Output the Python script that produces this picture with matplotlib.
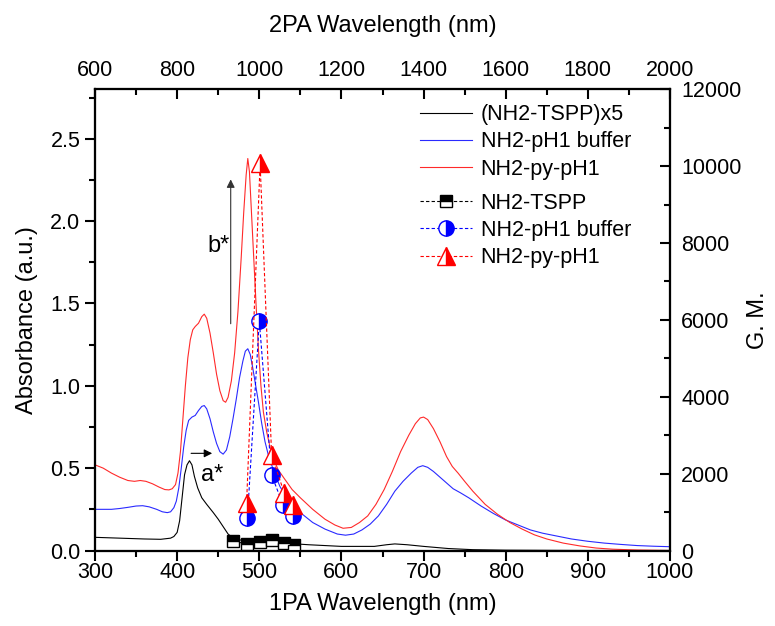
import matplotlib
matplotlib.use('Agg')
import matplotlib.pyplot as plt

plt.rcParams['font.family'] = ['Liberation Sans', 'DejaVu Sans']

# 1PA absorbance spectra (nm, a.u.)
wl_tspp = [300, 330, 360, 380, 392, 396, 400, 403, 406, 409, 412, 415, 418, 421, 425, 430, 436,
           444, 450, 456, 462, 468, 475, 490, 510, 530, 560, 600, 640, 655, 665, 680, 700, 730,
           760, 800, 900, 1000]
abs_tspp = [0.08, 0.075, 0.07, 0.068, 0.075, 0.085, 0.11, 0.18, 0.32, 0.46, 0.52, 0.545, 0.52,
            0.45, 0.38, 0.32, 0.28, 0.23, 0.19, 0.145, 0.1, 0.075, 0.065, 0.055, 0.05, 0.045,
            0.035, 0.025, 0.025, 0.035, 0.04, 0.035, 0.025, 0.012, 0.005, 0.002, 0.0, 0.0]

wl_ph1 = [300, 310, 320, 330, 340, 350, 358, 366, 375, 382, 388, 392, 396, 399, 402, 405, 408,
          411, 414, 418, 422, 426, 430, 433, 436, 440, 444, 448, 452, 456, 460, 464, 468, 472,
          476, 480, 483, 486, 489, 492, 495, 499, 503, 507, 511, 517, 525, 532, 540, 550, 565,
          580, 595, 605, 615, 625, 635, 645, 655, 665, 675, 685, 693, 699, 705, 712, 720, 728,
          736, 745, 755, 770, 785, 800, 815, 830, 845, 860, 880, 900, 920, 940, 960, 980, 1000]
abs_ph1 = [0.25, 0.25, 0.25, 0.255, 0.262, 0.27, 0.272, 0.265, 0.25, 0.235, 0.23, 0.235, 0.26,
           0.3, 0.38, 0.5, 0.63, 0.73, 0.79, 0.81, 0.82, 0.85, 0.875, 0.88, 0.86, 0.8, 0.72,
           0.65, 0.6, 0.585, 0.61, 0.69, 0.8, 0.92, 1.05, 1.15, 1.21, 1.225, 1.19, 1.11, 1.02,
           0.9, 0.77, 0.66, 0.58, 0.49, 0.39, 0.33, 0.28, 0.23, 0.17, 0.13, 0.1, 0.093, 0.1,
           0.125, 0.16, 0.21, 0.28, 0.36, 0.42, 0.47, 0.505, 0.515, 0.505, 0.48, 0.445, 0.41,
           0.375, 0.35, 0.32, 0.27, 0.225, 0.185, 0.155, 0.125, 0.105, 0.09, 0.07, 0.056,
           0.045, 0.037, 0.03, 0.026, 0.023]

wl_py = [300, 310, 320, 330, 340, 348, 355, 362, 370, 378, 385, 390, 394, 398, 401, 404, 407,
         410, 413, 416, 419, 422, 426, 430, 433, 436, 440, 444, 448, 452, 456, 459, 462, 466,
         470, 474, 478, 481, 484, 486, 488, 490, 493, 496, 499, 502, 505, 509, 513, 517, 523,
         530, 540, 550, 565, 580, 592, 602, 612, 622, 632, 642, 652, 662, 672, 682, 690, 696,
         700, 705, 712, 720, 728, 735, 742, 750, 760, 775, 790, 805, 820, 835, 850, 870, 890,
         910, 930, 960, 1000]
abs_py = [0.52, 0.5, 0.47, 0.445, 0.425, 0.42, 0.425, 0.42, 0.405, 0.385, 0.37, 0.368, 0.375,
          0.4, 0.47, 0.6, 0.8, 1.0, 1.17, 1.28, 1.34, 1.36, 1.38, 1.42, 1.435, 1.41, 1.32, 1.2,
          1.07, 0.97, 0.91, 0.9, 0.93, 1.03, 1.2, 1.45, 1.78, 2.05, 2.28, 2.38, 2.3, 2.1, 1.8,
          1.5, 1.22, 1.0, 0.84, 0.72, 0.63, 0.56, 0.49, 0.44, 0.37, 0.32, 0.25, 0.19, 0.155,
          0.135, 0.14, 0.17, 0.21, 0.28, 0.37, 0.48, 0.6, 0.7, 0.77, 0.805, 0.81, 0.795, 0.74,
          0.66, 0.57, 0.51, 0.47, 0.42, 0.36, 0.28, 0.22, 0.17, 0.13, 0.095, 0.07, 0.045, 0.028,
          0.015, 0.008, 0.003, 0.0]

# 2PA cross sections (2PA nm, GM)
tpa_wl_tspp = [937, 969, 1002, 1030, 1060, 1085]
gm_tspp = [255, 161, 213, 273, 187, 143]
tpa_wl_ph1 = [971, 1000, 1030, 1058, 1081]
gm_ph1 = [838, 5972, 1964, 1184, 898]
tpa_wl_py = [969, 1002, 1030, 1061, 1083]
gm_py = [1228, 10075, 2485, 1488, 1184]

fs = 15.5
fl = 17

fig = plt.figure(figsize=(7.75, 6.26), dpi=100)
ax = fig.add_axes([0.1226, 0.1206, 0.7419, 0.7367])

l1, = ax.plot(wl_tspp, abs_tspp, color='black', lw=0.8, label='(NH2-TSPP)x5')
l2, = ax.plot(wl_ph1, abs_ph1, color='#2a2aff', lw=0.8, label='NH2-pH1 buffer')
l3, = ax.plot(wl_py, abs_py, color='#ff2a2a', lw=0.8, label='NH2-py-pH1')

ax.set_xlim(300, 1000)
ax.set_ylim(0, 2.8)
ax.set_xticks(range(300, 1001, 100))
ax.set_xticks(range(350, 1000, 100), minor=True)
ax.set_yticks([0, 0.5, 1.0, 1.5, 2.0, 2.5])
ax.set_yticklabels(['0.0', '0.5', '1.0', '1.5', '2.0', '2.5'])
ax.set_yticks([0.25, 0.75, 1.25, 1.75, 2.25, 2.75], minor=True)
ax.tick_params(which='both', direction='out', labelsize=fs, width=1.5, top=False, right=False)
ax.tick_params(which='major', length=7)
ax.tick_params(which='minor', length=4)
ax.tick_params(axis='x', which='major', pad=1.5)
ax.set_xlabel('1PA Wavelength (nm)', fontsize=fl, labelpad=7)
ax.set_ylabel('Absorbance (a.u.)', fontsize=fl, labelpad=9)

# arrows
ax.annotate('', xy=(446, 0.59), xytext=(413.6, 0.59),
            arrowprops=dict(arrowstyle='-|>', color='black', lw=0.8, mutation_scale=12))
ax.text(442, 0.46, 'a*', fontsize=fl, ha='center', va='center')
ax.annotate('', xy=(465.2, 2.27), xytext=(465.2, 1.36),
            arrowprops=dict(arrowstyle='-|>', color='#333333', lw=0.8, mutation_scale=12))
ax.text(450, 1.85, 'b*', fontsize=fl, ha='center', va='center')

# right axis (GM) and top axis (2PA wavelength)
axr = ax.twinx()
axr.set_ylim(0, 12000)
axr.set_yticks(range(0, 12001, 2000))
axr.set_yticks(range(1000, 12000, 2000), minor=True)
axr.tick_params(which='both', direction='in', labelsize=fs, width=1.5)
axr.tick_params(which='major', length=7, pad=8)
axr.tick_params(which='minor', length=4)
axr.set_ylabel('G. M.', fontsize=fl, labelpad=4)

axt = axr.twiny()
axt.set_xlim(600, 2000)
axt.set_xticks(range(600, 2001, 200))
axt.set_xticks(range(700, 2000, 200), minor=True)
axt.tick_params(which='both', direction='in', labelsize=fs, width=1.5)
axt.tick_params(which='major', length=7, pad=6)
axt.tick_params(which='minor', length=4)
axt.set_xlabel('2PA Wavelength (nm)', fontsize=fl, labelpad=20)

dash = (0, (3, 2))
m1, = axt.plot(tpa_wl_tspp, gm_tspp, ls=dash, lw=0.8, color='black', marker='s', ms=9,
               fillstyle='top', mfc='black', mfcalt='white', mec='black', mew=1.0, label='NH2-TSPP')
m2, = axt.plot(tpa_wl_ph1, gm_ph1, ls=dash, lw=0.8, color='blue', marker='o', ms=11,
               fillstyle='right', mfc='blue', mfcalt='white', mec='blue', mew=1.0, label='NH2-pH1 buffer')
m3, = axt.plot(tpa_wl_py, gm_py, ls=dash, lw=0.8, color='red', marker='^', ms=13,
               fillstyle='right', mfc='red', mfcalt='white', mec='red', mew=1.0, label='NH2-py-pH1')

for a in (ax, axr, axt):
    for s in a.spines.values():
        s.set_linewidth(1.5)

leg1 = axt.legend(handles=[l1, l2, l3], loc='upper left', bbox_to_anchor=(0.566, 0.968),
                  frameon=False, fontsize=fs, borderpad=0, borderaxespad=0,
                  handlelength=2.4, handletextpad=0.4, labelspacing=0.29)
axt.add_artist(leg1)
axt.legend(handles=[m1, m2, m3], loc='upper left', bbox_to_anchor=(0.566, 0.776),
           frameon=False, fontsize=fs, borderpad=0, borderaxespad=0, numpoints=1,
           handlelength=2.4, handletextpad=0.4, labelspacing=0.29)

fig.savefig('out.png', dpi=100)
